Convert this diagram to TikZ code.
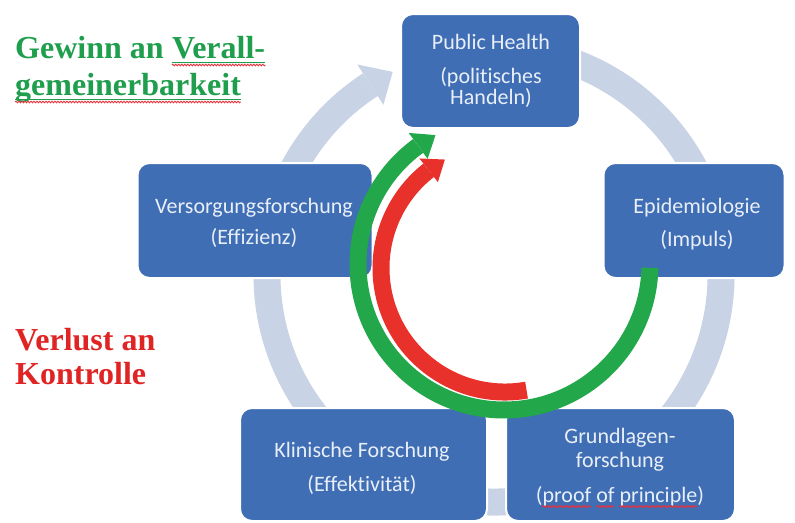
\documentclass[tikz,border=0pt]{standalone}
\usepackage{fontspec}
\usetikzlibrary{calc,decorations.pathmorphing}
\setmainfont{Liberation Serif}
\newfontfamily\boxfont[Ligatures=NoCommon]{Carlito}

\definecolor{boxblue}{HTML}{3F6EB5}
\definecolor{boxtxt}{HTML}{E9EFF8}
\definecolor{ringcol}{HTML}{C8D3E5}
\definecolor{arrgreen}{HTML}{22A84B}
\definecolor{arrred}{HTML}{E8312A}
\definecolor{gaingreen}{HTML}{1F9E4D}
\definecolor{lossred}{HTML}{E02424}
\definecolor{spellred}{HTML}{E8303A}

\newcommand\stagefont{\boxfont\fontsize{22}{26}\selectfont}
% word offsets along "(proof of principle)"
\newlength\wProofA \newlength\wProofB
\newlength\wOfA \newlength\wOfB
\newlength\wPrincA \newlength\wPrincB
\newlength\wTmp

\begin{document}
\settowidth\wProofA{\stagefont (}%
\settowidth\wProofB{\stagefont (proof}%
\settowidth\wTmp{\stagefont of}%
\settowidth\wOfB{\stagefont (proof of}%
\setlength\wOfA{\dimexpr\wOfB-\wTmp\relax}%
\settowidth\wTmp{\stagefont principle}%
\settowidth\wPrincB{\stagefont (proof of principle}%
\setlength\wPrincA{\dimexpr\wPrincB-\wTmp\relax}%
\begin{tikzpicture}[x=1pt,y=1pt,
  ring/.style={draw=ringcol, line width=27pt},
  stagebox/.style={draw=white, line width=2pt, fill=boxblue, rounded corners=12pt,
    inner sep=0pt},
  boxtext/.style={font=\stagefont, text=boxtxt, anchor=base, inner sep=0pt},
  bigword/.style={font=\fontsize{32}{38}\selectfont\bfseries, anchor=base west, inner sep=0pt},
  gainline/.style={draw=gaingreen, line width=1.3pt},
  spell/.style={draw=spellred, line width=0.9pt, decorate,
    decoration={snake, amplitude=0.8pt, segment length=3pt}},
  greenarc/.style={draw=arrgreen, line width=17pt},
  redarc/.style={draw=arrred, line width=17pt}]

\useasboundingbox (0,0) rectangle (795,-522);
\fill[white] (0,0) rectangle (795,-522);

% pale cycle ring behind the stages
\coordinate (rc) at (494,-275);
\draw[ring] ($(rc)+(112:227)$) arc[start angle=112, end angle=-237, radius=227];
\fill[ringcol] ($(rc)+(123:251)$) -- ($(rc)+(116.5:227)$) -- ($(rc)+(123:203)$) -- cycle;

% stages
\node[stagebox, minimum width=179pt, minimum height=114pt] (ph)    at (490.5,-71) {};
\node[stagebox, minimum width=235pt, minimum height=115pt] (vers)  at (255,-220.5) {};
\node[stagebox, minimum width=181pt, minimum height=115pt] (epi)   at (694,-220.5) {};
\node[stagebox, minimum width=247pt, minimum height=113pt] (klin)  at (363.5,-464.5) {};
\node[stagebox, minimum width=229pt, minimum height=113pt] (grund) at (620.5,-464.5) {};

% green and red arcs
\coordinate (gc) at (504,-264);
\draw[greenarc] ($(gc)+(-1.5:146)$) arc[start angle=-1.5, end angle=-234, radius=146];
\fill[arrgreen] ($(gc)+(126:162)$) -- ($(gc)+(118:146)$) -- ($(gc)+(126:130)$) -- cycle;

\coordinate (rdc) at (505,-268);
\draw[redarc] ($(rdc)+(-80:124)$) arc[start angle=-80, end angle=-232, radius=124];
\fill[arrred] ($(rdc)+(128:139)$) -- ($(rdc)+(119:124)$) -- ($(rdc)+(128:109)$) -- cycle;

% stage labels
\node[boxtext] (ph1) at (491,-49) {Public Health};
\node[boxtext] (ph2) at (491,-83) {(politisches};
\node[boxtext] (ph3) at (491,-104) {Handeln)};

\node[boxtext] (vers1) at (254,-213) {Versorgungsforschung};
\node[boxtext] (vers2) at (254,-244) {(Effizienz)};

\node[boxtext] (epi1) at (697,-213) {Epidemiologie};
\node[boxtext] (epi2) at (697,-246) {(Impuls)};

\node[boxtext] (klin1) at (362,-457) {Klinische Forschung};
\node[boxtext] (klin2) at (362,-491) {(Effektivität)};

\node[boxtext] (grund1) at (620,-443) {Grundlagen-};
\node[boxtext] (grund2) at (620,-467) {forschung};
\node[boxtext] (grund3) at (620,-502) {(proof of principle)};
\coordinate (pp) at ([yshift=-4.5pt]grund3.base west);
\draw[spell] ([xshift=\wProofA]pp) -- ([xshift=\wProofB]pp);
\draw[spell] ([xshift=\wOfA]pp) -- ([xshift=\wOfB]pp);
\draw[spell] ([xshift=\wPrincA]pp) -- ([xshift=\wPrincB]pp);

% side captions
\node[bigword, text=gaingreen] (gain1) at (15,-58) {Gewinn an};
\node[bigword, text=gaingreen] (gain2) at ($(gain1.base east)+(8,0)$) {Verall-};
\node[bigword, text=gaingreen] (gain3) at (15,-95) {gemeinerbarkeit};
\draw[gainline] ($(gain2.base west)+(0,-4.5)$) -- ($(gain2.base east)+(0,-4.5)$);
\draw[gainline] ($(gain3.base west)+(0,-4.5)$) -- ($(gain3.base east)+(0,-4.5)$);
\draw[spell] ($(gain2.base west)+(0,-7)$) -- ($(gain2.base east)+(0,-7)$);
\draw[spell] ($(gain3.base west)+(0,-7)$) -- ($(gain3.base east)+(0,-7)$);

\node[bigword, text=lossred] (loss1) at (15,-350) {Verlust an};
\node[bigword, text=lossred] (loss2) at (15,-384) {Kontrolle};
\end{tikzpicture}
\end{document}
